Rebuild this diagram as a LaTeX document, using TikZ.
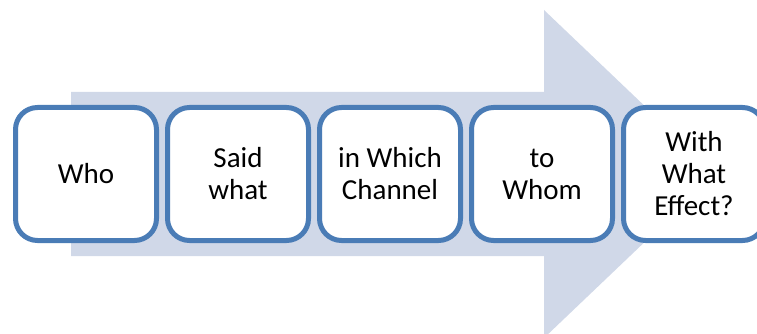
\documentclass[tikz,border=0pt]{standalone}
\usepackage{fontspec}
\setmainfont{Carlito}
\definecolor{arrowfill}{RGB}{208,216,232}
\definecolor{boxline}{RGB}{74,124,182}
\begin{document}
\begin{tikzpicture}[x=1pt,y=-1pt,
  stagebox/.style={draw=boxline, line width=5pt, fill=white, rounded corners=22pt,
    minimum width=141pt, minimum height=133pt, inner sep=0pt, align=center,
    font=\fontsize{29}{32}\selectfont, text=black}]
\useasboundingbox (0,0) rectangle (757,334);
\clip (0,0) rectangle (757,334);
\fill[arrowfill] (71,92) -- (544,92) -- (544,10) -- (716,174) -- (544,338) -- (544,256) -- (71,256) -- cycle;
\node[stagebox] (who) at (86,174) {Who};
\node[stagebox] (said) at (238,174) {Said\\what};
\node[stagebox] (channel) at (390,174) {in Which\\Channel};
\node[stagebox] (whom) at (542,174) {to\\Whom};
\node[stagebox] (effect) at (694,174) {With\\What\\Effect?};
\end{tikzpicture}
\end{document}
